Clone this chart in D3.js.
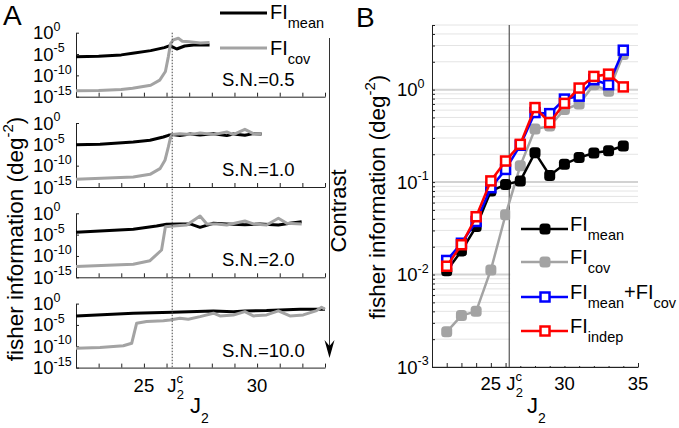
<!DOCTYPE html>
<html><head><meta charset="utf-8">
<script src="https://cdn.jsdelivr.net/npm/d3@7"></script>
<style>body{margin:0;background:#fff} text{font-family:"Liberation Sans",Arial,Helvetica,sans-serif;fill:#000}</style>
</head><body><svg id="c" width="679" height="428"></svg>
<script>
// ---------- DATA ----------
const j2Critical = 26.25;
const snLabels = ["S.N.=0.5", "S.N.=1.0", "S.N.=2.0", "S.N.=10.0"];
const aYTicks = [1, 1e-5, 1e-10, 1e-15];
const aYTickExp = ["0", "-5", "-10", "-15"];
const aXTickLabels = [25, 30];

// Panel A, S.N.=0.5
const sn05MeanJ2 = [22, 23, 24, 24.5, 25.3, 25.9, 26.15, 26.45, 26.8, 27.2, 27.5, 27.9];
const sn05Mean   = [2.4e-6, 3.2e-6, 6.3e-6, 1.5e-5, 6.3e-5, 3.2e-4, 9.1e-4, 1.5e-4, 7.6e-4, 1.3e-3, 1.3e-3, 1.3e-3];
const sn05CovJ2  = [22, 23, 24, 24.5, 25.3, 25.7, 25.95, 26.08, 26.18, 26.3, 26.52, 26.7, 27.0, 27.5, 27.9];
const sn05Cov    = [2.5e-14, 2.8e-14, 5e-14, 1e-13, 5e-13, 7.9e-12, 7.9e-10, 2.5e-6, 3.2e-3, 2e-2, 5e-2, 1e-2, 7.9e-3, 4e-3, 5e-3];
// Panel A, S.N.=1.0
const sn10MeanJ2 = [22, 23.06, 24.53, 25.27, 25.86, 26.08, 26.25, 26.59, 27.04, 27.48, 28.07, 28.66, 28.95, 29.46, 29.83, 30.2];
const sn10Mean   = [8.5e-6, 1e-5, 3.5e-5, 8.9e-5, 5.2e-4, 1.3e-3, 1.9e-3, 1.1e-3, 2.7e-3, 1.6e-3, 3.2e-3, 1.1e-3, 2.7e-3, 1.3e-3, 3.2e-3, 2.8e-3];
const sn10CovJ2  = [22, 24.53, 25.27, 25.71, 25.93, 26.08, 26.18, 26.25, 26.59, 27.04, 27.48, 28.07, 28.66, 28.95, 29.46, 29.83, 30.2];
const sn10Cov    = [6.3e-14, 2.2e-13, 9.3e-13, 2e-11, 1.8e-9, 2.5e-6, 5.2e-4, 1.9e-3, 3.2e-3, 1.9e-3, 4.6e-3, 1.9e-3, 7.9e-3, 1.9e-3, 3.3e-2, 3.2e-3, 3.2e-3];
// Panel A, S.N.=2.0
const sn20MeanJ2 = [22, 24.53, 25.56, 26.0, 26.59, 27.04, 27.48, 28.07, 28.66, 29.46, 30.13, 30.94, 31.45, 31.97];
const sn20Mean   = [3.5e-5, 1.8e-4, 1e-3, 2.6e-3, 3.2e-3, 3.2e-3, 5.2e-4, 4.6e-3, 3.2e-3, 2e-3, 3.2e-3, 1.8e-3, 4.6e-3, 1.1e-2];
const sn20CovJ2  = [22, 24.53, 25.27, 25.78, 25.95, 26.3, 26.89, 27.48, 27.78, 28.22, 28.66, 29.46, 29.83, 30.42, 30.94, 31.31, 31.97];
const sn20Cov    = [3.2e-13, 1.1e-12, 7.9e-12, 2.5e-9, 7.4e-4, 1.1e-3, 1.8e-3, 0.23, 3.2e-3, 3.2e-3, 1.8e-3, 1.6e-2, 3.2e-3, 1.8e-3, 6.8e-2, 4.6e-3, 3.2e-3];
// Panel A, S.N.=10.0
const sn100MeanJ2 = [22, 24.53, 26.25, 28.07, 28.95, 29.46, 30.42, 31.01, 31.9, 33.0];
const sn100Mean   = [1.3e-3, 5.6e-3, 9.5e-3, 1.9e-2, 1.3e-2, 1.9e-2, 2.3e-2, 3.3e-2, 4.7e-2, 4.7e-2];
const sn100CovJ2  = [22, 23.06, 24.09, 24.46, 24.68, 25.12, 25.86, 26.15, 26.59, 26.96, 27.48, 28.07, 28.36, 28.95, 29.46, 29.83, 30.42, 30.94, 31.45, 32.04, 32.63, 32.85, 33.0];
const sn100Cov    = [3.5e-11, 5e-11, 1.3e-10, 5e-10, 2.5e-5, 6.3e-5, 1e-4, 1.5e-4, 3.7e-4, 2.2e-4, 8.9e-4, 5.6e-3, 1.3e-3, 2.2e-3, 1.3e-2, 1.3e-3, 2.2e-3, 1.9e-2, 1.3e-3, 2.2e-3, 2.3e-2, 0.14, 4.9e-2];

// Panel B
const bJ2    = [22, 23, 24, 25, 26, 27, 28, 29, 30, 31, 32, 33, 34];
const bMean  = [0.011, 0.018, 0.033, 0.080, 0.094, 0.103, 0.208, 0.118, 0.156, 0.184, 0.206, 0.218, 0.246];
const bCov   = [0.0024, 0.0036, 0.0040, 0.0112, 0.0443, 0.150, 0.375, 0.404, 0.61, 0.70, 1.13, 0.96, 2.4];
const bSum   = [0.0142, 0.0218, 0.0375, 0.087, 0.137, 0.25, 0.565, 0.55, 0.79, 0.85, 1.28, 1.13, 2.67];
const bIndep = [0.0123, 0.0210, 0.0422, 0.103, 0.169, 0.256, 0.64, 0.44, 0.71, 1.04, 1.39, 1.47, 1.07];
const bYLabelTicks = [1e-3, 1e-2, 1e-1, 1];
const bYLabelExp = ["-3", "-2", "-1", "0"];
const bXTickLabels = [25, 30, 35];

// ---------- DRAW ----------
const svg = d3.select("#c");
const GRAY = "#a3a3a3";

function rich(g, x, y, parts, size, anchor) {
  const t = g.append("text").attr("x", x).attr("y", y).attr("font-size", size)
    .attr("text-anchor", anchor || "start");
  let shift = 0;
  parts.forEach(p => {
    const [txt, kind, sz] = p;
    let target = 0;
    if (kind === "sub") target = size * 0.45;
    if (kind === "sup") target = -size * 0.45;
    const ts = t.append("tspan").text(txt).attr("dy", target - shift);
    if (sz) ts.attr("font-size", sz);
    shift = target;
  });
  return t;
}

// ---- Panel A ----
const xA = d3.scaleLinear().domain([22, 33]).range([76, 325]);
const aTop0 = 32.7, aPitch = 90.3, aH = 64;
const panelsA = [
  [sn05MeanJ2, sn05Mean, sn05CovJ2, sn05Cov],
  [sn10MeanJ2, sn10Mean, sn10CovJ2, sn10Cov],
  [sn20MeanJ2, sn20Mean, sn20CovJ2, sn20Cov],
  [sn100MeanJ2, sn100Mean, sn100CovJ2, sn100Cov]
];
panelsA.forEach((p, i) => {
  const top = aTop0 + i * aPitch;
  const y = d3.scaleLog().domain([1e-15, 1]).range([top + aH, top]);
  const g = svg.append("g");
  const ay = g.append("g").attr("transform", `translate(${xA.range()[0]},0)`)
    .call(d3.axisLeft(y).tickValues(aYTicks).tickSizeInner(-3).tickSizeOuter(0).tickFormat(""));
  const ax = g.append("g").attr("transform", `translate(0,${top + aH})`)
    .call(d3.axisBottom(xA).tickValues(d3.range(23, 34)).tickSizeInner(-4).tickSizeOuter(0).tickFormat(""));
  [ay, ax].forEach(a => { a.selectAll("path,line").attr("stroke", "#222"); });
  aYTicks.forEach((v, k) => {
    rich(g, 33, y(v) + 6.5, [["10"], [aYTickExp[k], "sup", 12.5]], 18.5);
  });
  const line = d3.line().x(d => xA(d[0])).y(d => y(d[1]));
  g.append("path").attr("d", line(d3.zip(p[0], p[1]))).attr("fill", "none").attr("stroke", "#000").attr("stroke-width", 3).attr("stroke-linejoin", "round");
  g.append("path").attr("d", line(d3.zip(p[2], p[3]))).attr("fill", "none").attr("stroke", GRAY).attr("stroke-width", 3).attr("stroke-linejoin", "round");
  g.append("text").attr("x", 222).attr("y", top + 53).attr("font-size", 18.5).text(snLabels[i]);
});
svg.append("line").attr("x1", xA(j2Critical)).attr("x2", xA(j2Critical))
  .attr("y1", aTop0).attr("y2", aTop0 + 3 * aPitch + aH)
  .attr("stroke", "#444").attr("stroke-width", 1).attr("stroke-dasharray", "1.5,1.5");
const aBottom = aTop0 + 3 * aPitch + aH;
aXTickLabels.forEach(v => {
  svg.append("text").attr("x", xA(v)).attr("y", aBottom + 24).attr("font-size", 18.5).attr("text-anchor", "middle").text(v);
});
{
  const t = svg.append("text").attr("x", xA(j2Critical) - 5).attr("y", aBottom + 24).attr("font-size", 18.5);
  t.append("tspan").text("J");
  t.append("tspan").attr("font-size", 13).attr("dy", -9).text("c");
  t.append("tspan").attr("font-size", 13).attr("x", xA(j2Critical) + 4.5).attr("dy", 16).text("2");
}
rich(svg, 190, 413, [["J"], ["2", "sub", 14]], 22);
svg.append("text").attr("transform", "translate(23,239) rotate(-90)").attr("text-anchor", "middle")
  .attr("font-size", 22.5).call(t => {
    t.append("tspan").text("fisher information (deg");
    t.append("tspan").attr("font-size", 15).attr("dy", -10).text("-2");
    t.append("tspan").attr("dy", 10).text(")");
  });
svg.append("line").attr("x1", 220).attr("x2", 267).attr("y1", 13).attr("y2", 13).attr("stroke", "#000").attr("stroke-width", 3);
rich(svg, 270, 19, [["FI"], ["mean", "sub", 14.5]], 20);
svg.append("line").attr("x1", 220).attr("x2", 267).attr("y1", 48).attr("y2", 48).attr("stroke", GRAY).attr("stroke-width", 3);
rich(svg, 270, 55, [["FI"], ["cov", "sub", 14.5]], 20);
svg.append("line").attr("x1", 329.5).attr("x2", 329.5).attr("y1", 38).attr("y2", 350).attr("stroke", "#333").attr("stroke-width", 1);
svg.append("path").attr("d", "M324.5,340 L329.5,358 L334.5,340 L329.5,346 Z").attr("fill", "#000");
svg.append("text").attr("transform", "translate(346,211) rotate(-90)").attr("text-anchor", "middle").attr("font-size", 22).text("Contrast");
svg.append("text").attr("x", 3).attr("y", 25).attr("font-size", 28).text("A");

// ---- Panel B ----
const xB = d3.scaleLinear().domain([21, 35]).range([432, 638]);
const yB = d3.scaleLog().domain([1e-3, 5]).range([367, 25]);
const gB = svg.append("g");
const allTicks = yB.ticks();
const isMajor = v => Math.abs(Math.log10(v) - Math.round(Math.log10(v))) < 1e-9;
gB.selectAll("line.grid").data(allTicks).join("line").attr("class", "grid")
  .attr("x1", xB(21)).attr("x2", xB(35)).attr("y1", d => yB(d)).attr("y2", d => yB(d))
  .attr("stroke", d => isMajor(d) ? "#d2d2d2" : "#e4e4e4").attr("stroke-width", d => isMajor(d) ? 2 : 1);
gB.append("line").attr("x1", xB(j2Critical)).attr("x2", xB(j2Critical)).attr("y1", yB.range()[1]).attr("y2", yB.range()[0]).attr("stroke", "#555").attr("stroke-width", 1.2);
const byAxis = gB.append("g").attr("transform", `translate(${xB.range()[0]},0)`)
  .call(d3.axisLeft(yB).tickValues(allTicks).tickSizeInner(-3).tickSizeOuter(0).tickFormat(""));
const bxAxis = gB.append("g").attr("transform", `translate(0,${yB.range()[0]})`)
  .call(d3.axisBottom(xB).tickValues(d3.range(22, 36)).tickSizeInner(-4).tickSizeOuter(0).tickFormat(""));
[byAxis, bxAxis].forEach(a => a.selectAll("path,line").attr("stroke", "#222"));
bYLabelTicks.forEach((v, k) => rich(gB, 397, yB(v) + 6.5, [["10"], [bYLabelExp[k], "sup", 12.5]], 18.5));
bXTickLabels.forEach(v => gB.append("text").attr("x", xB(v)).attr("y", 390).attr("font-size", 18.5).attr("text-anchor", "middle").text(v));
{
  const t = gB.append("text").attr("x", xB(j2Critical) - 3).attr("y", 390).attr("font-size", 18.5);
  t.append("tspan").text("J");
  t.append("tspan").attr("font-size", 13).attr("dy", -9).text("c");
  t.append("tspan").attr("font-size", 13).attr("x", xB(j2Critical) + 6.5).attr("dy", 16).text("2");
}
rich(gB, 527, 413, [["J"], ["2", "sub", 14]], 22);
gB.append("text").attr("transform", "translate(385,197) rotate(-90)").attr("text-anchor", "middle")
  .attr("font-size", 22.5).call(t => {
    t.append("tspan").text("fisher information (deg");
    t.append("tspan").attr("font-size", 15).attr("dy", -10).text("-2");
    t.append("tspan").attr("dy", 10).text(")");
  });
svg.append("text").attr("x", 356).attr("y", 27).attr("font-size", 28).text("B");

const series = [
  {vals: bCov, color: GRAY, open: false},
  {vals: bMean, color: "#000", open: false},
  {vals: bSum, color: "#0000ff", open: true},
  {vals: bIndep, color: "#ff0000", open: true}
];
const lineB = d3.line().x(d => xB(d[0])).y(d => yB(d[1]));
function marker(g, x, y, s) {
  if (s.open) {
    g.append("rect").attr("x", x - 4.5).attr("y", y - 4.5).attr("width", 9).attr("height", 9)
      .attr("fill", "#fff").attr("stroke", s.color).attr("stroke-width", 2.5);
  } else {
    g.append("rect").attr("x", x - 5.5).attr("y", y - 5.5).attr("width", 11).attr("height", 11)
      .attr("rx", 3.5).attr("fill", s.color);
  }
}
series.forEach(s => {
  const pts = d3.zip(bJ2, s.vals);
  gB.append("path").attr("d", lineB(pts)).attr("fill", "none").attr("stroke", s.color).attr("stroke-width", 2.5);
  pts.forEach(p => marker(gB, xB(p[0]), yB(p[1]), s));
});
const lg = svg.append("g");
lg.append("rect").attr("x", xB(j2Critical) + 1).attr("y", 207).attr("width", xB(35) - xB(j2Critical) - 1).attr("height", 159).attr("fill", "#fff");
const legRows = [
  {s: series[1], y: 229, parts: [["FI"], ["mean", "sub", 14.5]]},
  {s: series[0], y: 262, parts: [["FI"], ["cov", "sub", 14.5]]},
  {s: series[2], y: 297, parts: [["FI"], ["mean", "sub", 14.5], ["+FI"], ["cov", "sub", 14.5]]},
  {s: series[3], y: 331, parts: [["FI"], ["indep", "sub", 14.5]]}
];
legRows.forEach(r => {
  lg.append("line").attr("x1", 521).attr("x2", 568).attr("y1", r.y).attr("y2", r.y).attr("stroke", r.s.color).attr("stroke-width", 2.5);
  marker(lg, 545, r.y, r.s);
  rich(lg, 570, r.y + 2, r.parts, 20);
});
</script></body></html>
